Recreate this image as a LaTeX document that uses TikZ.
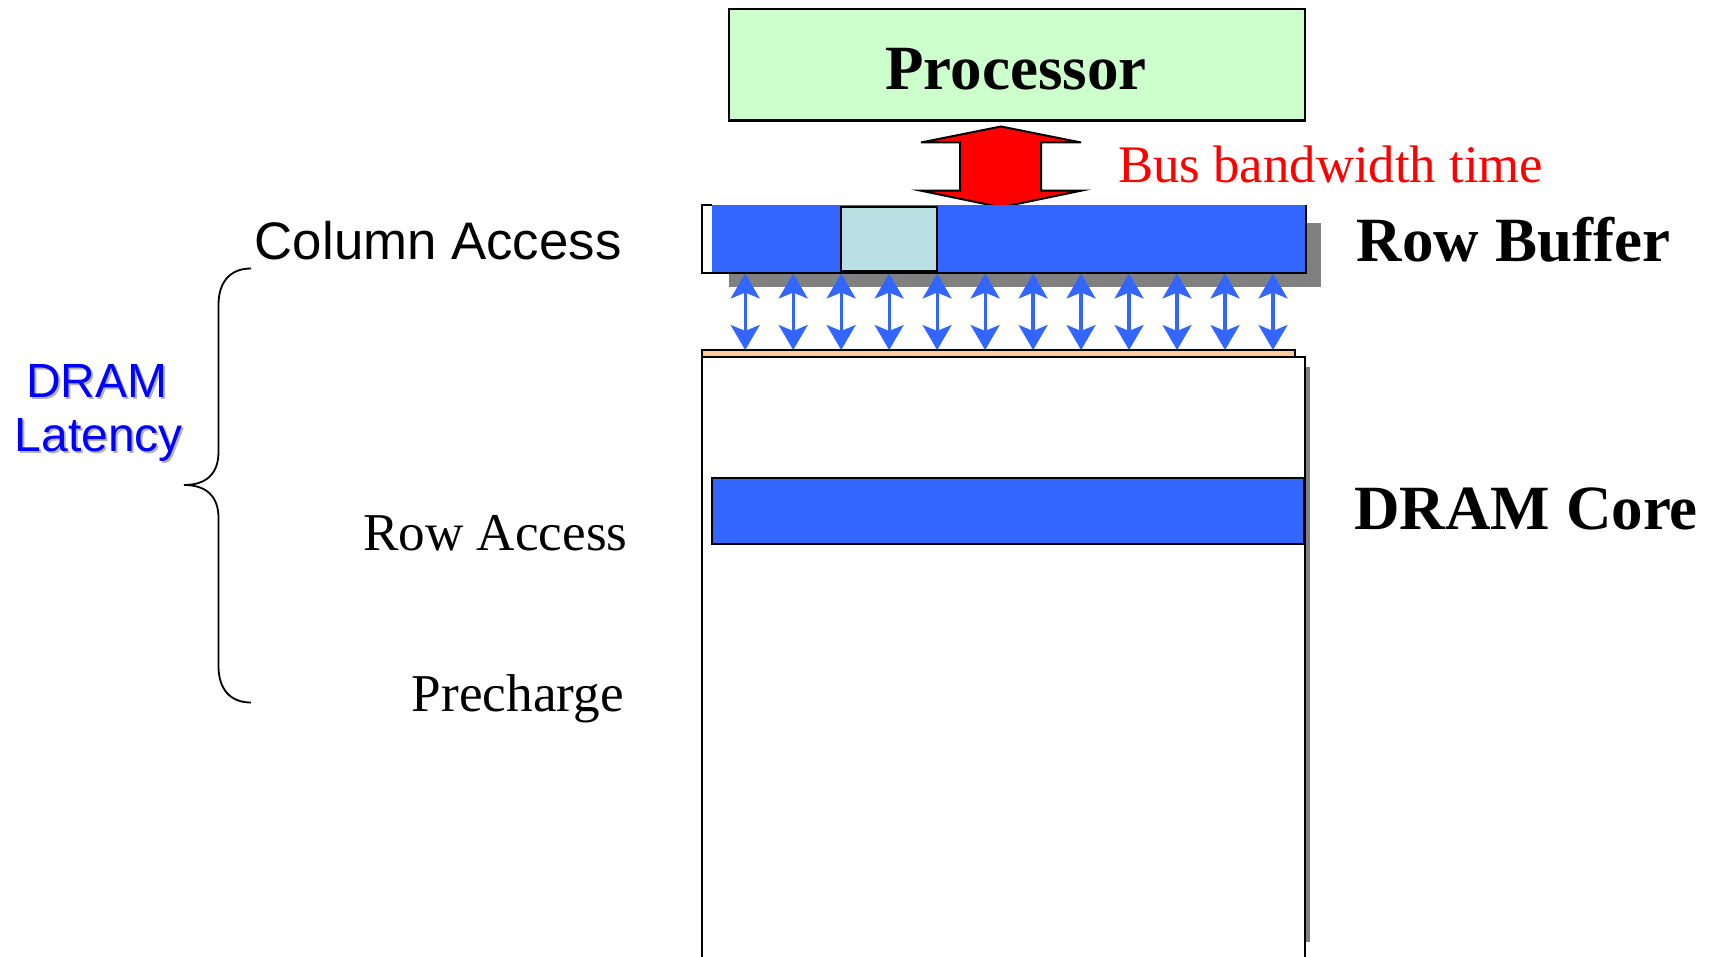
\documentclass[tikz,border=0pt]{standalone}
\usepackage{fontspec}
\setmainfont{Liberation Serif}
\setsansfont{Liberation Sans}
\usetikzlibrary{arrows.meta}

\definecolor{procgreen}{HTML}{CCFFCC}
\definecolor{cellblue}{HTML}{3366FF}
\definecolor{selcell}{HTML}{BBE0E3}
\definecolor{senseamp}{HTML}{FFCC99}
\definecolor{dropshade}{HTML}{808080}
\definecolor{latblue}{HTML}{0000FF}
\definecolor{latshade}{HTML}{B4B4B4}

\begin{document}
\begin{tikzpicture}[x=0.5pt,y=-0.5pt,
  box/.style={draw=black,line width=1pt},
  title/.style={font=\fontsize{31.5}{36}\selectfont\bfseries,inner sep=0pt},
  serifside/.style={font=\fontsize{26.6}{30}\selectfont,inner sep=0pt},
  sansside/.style={font=\sffamily\fontsize{26.4}{30}\selectfont,inner sep=0pt},
  latency/.style={font=\sffamily\fontsize{24}{28}\selectfont,inner sep=0pt,anchor=base},
  tipshape/.tip={Stealth[length=12.5pt,width=14.5pt,inset=3pt]},
  biarrow/.style={draw=cellblue,line width=1.6pt,tipshape-tipshape},
]
\useasboundingbox (0,0) rectangle (1712,957);
\fill[white] (0,0) rectangle (1712,957);

% processor
\draw[box,fill=procgreen,line width=1.2pt] (729,9.3) rectangle (1305,120.5);
\node[title,anchor=base] (proc) at (1016,89.3) {Processor};

% bus between processor and row buffer
\draw[fill=red,line width=1pt,line join=miter]
  (1001,126.5) -- (1081,142.5) -- (1041,142.5) -- (1041,190.7) -- (1081,190.7)
  -- (1001,207.3) -- (921,190.7) -- (960,190.7) -- (960,142.5) -- (921,142.5) -- cycle;
\node[serifside,font=\fontsize{26.4}{30}\selectfont,text=red,anchor=base west] (bus) at (1117.6,182.5) {Bus bandwidth time};

% row buffer with drop shadow
\fill[dropshade] (728.5,222.7) rectangle (1320.5,286.7);
\fill[white] (702,205.5) rectangle (1306,273);
\fill[cellblue] (711.6,205.5) rectangle (1306,273);
\draw[line width=1pt] (711.6,205.5) -- (702,205.5) -- (702,273) -- (1306,273) -- (1306,205.5);
\draw[box,fill=selcell] (840.8,206.7) rectangle (937.2,271.3);
\node[title,anchor=base west] (rblbl) at (1356.5,262) {Row Buffer};

% DRAM core with drop shadow
\fill[dropshade] (1300,366.7) rectangle (1309.5,941.7);
\fill[white] (702,357) rectangle (1305,957);
\draw[line width=1pt] (702,957) -- (702,357) -- (1305,357) -- (1305,957);
\draw[line width=1pt,fill=senseamp] (702,350.3) rectangle (1294.5,357);
\draw[box,fill=cellblue] (711.6,478.3) rectangle (1304,544);
\node[title,anchor=base west] (corelbl) at (1354,529) {DRAM Core};

% column lines between row buffer and sense amplifiers
\foreach \i in {0,...,11} {
  \pgfmathsetmacro\xx{745.2+47.98*\i}
  \coordinate (rb\i) at (\xx,273.5);
  \coordinate (sa\i) at (\xx,350);
  \draw[biarrow] (rb\i) -- (sa\i);
}

% latency phases
\node[sansside,anchor=base east] (colacc) at (622,259) {Column Access};
\node[serifside,anchor=base east] (rowacc) at (628,550) {Row Access};
\node[serifside,anchor=base east] (prech) at (624,711.7) {Precharge};

% brace grouping the phases
\draw[line width=0.9pt]
  (251,268.5) .. controls (230,268.5) and (218.5,282) .. (218.5,305)
  -- (218.5,452) .. controls (218.5,474) and (206,485) .. (184,485)
  .. controls (206,485) and (218.5,496) .. (218.5,518)
  -- (218.5,666) .. controls (218.5,689) and (230,702.5) .. (251,702.5);

% latency caption with soft shadow
\node[latency,text=latshade] (lat1s) at (98.7,399.3) {DRAM};
\node[latency,text=latshade] (lat2s) at (100.8,453.7) {Latency};
\node[latency,text=latblue] (lat1) at (96.7,397.3) {DRAM};
\node[latency,text=latblue] (lat2) at (98.8,451.7) {Latency};
\end{tikzpicture}
\end{document}
